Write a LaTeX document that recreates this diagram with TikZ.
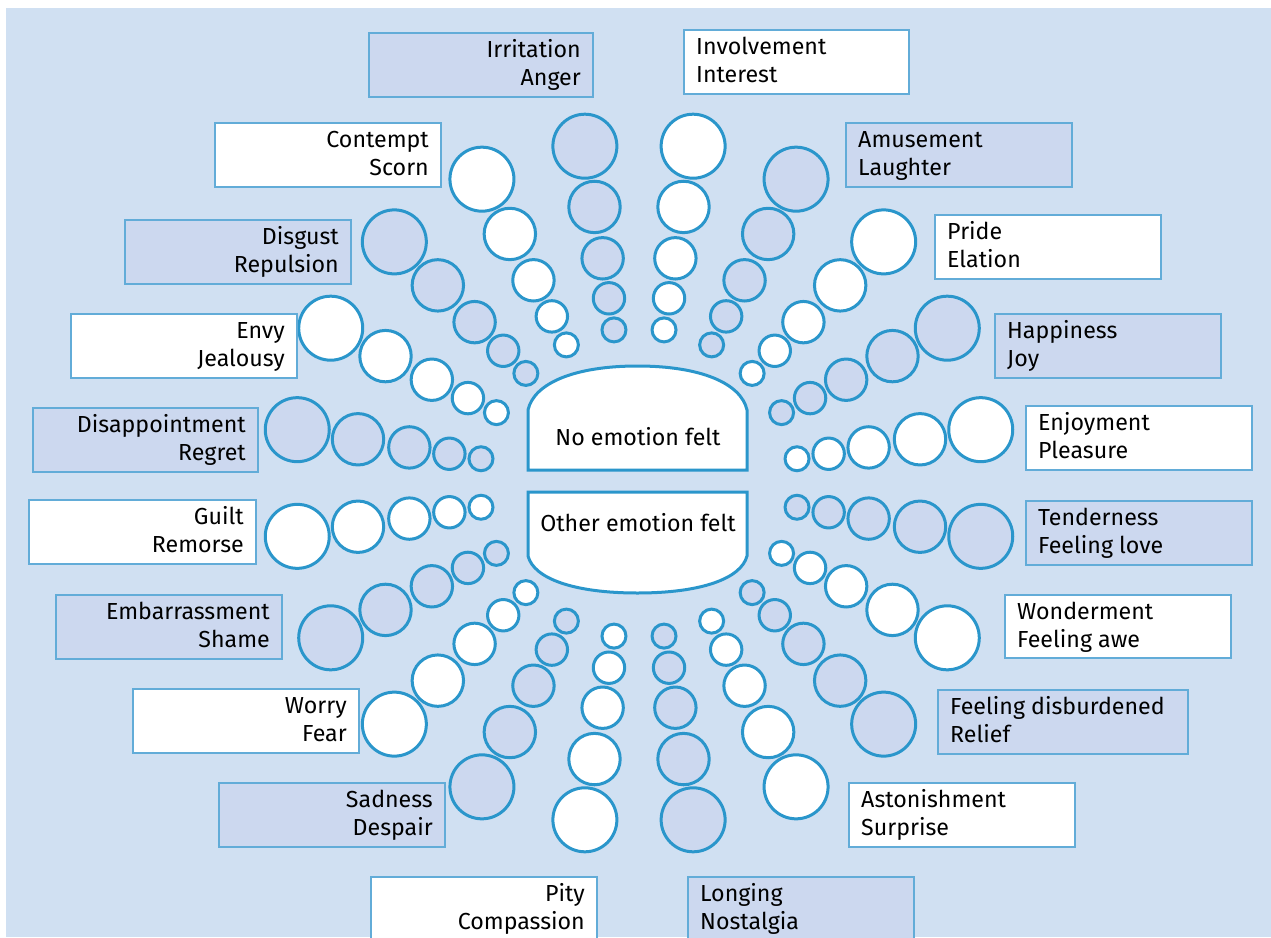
\documentclass[tikz,border=0pt]{standalone}
\usepackage{fontspec}
\setmainfont{Fira Sans}
\usetikzlibrary{calc}
\definecolor{bgc}{HTML}{D0E0F2}
\definecolor{cblue}{HTML}{CCD8EF}
\definecolor{cline}{HTML}{2A96CB}
\definecolor{bline}{HTML}{62ACD8}
\tikzset{
 circ/.style={draw=cline,line width=3pt},
 ebox/.style={draw=bline,line width=2pt,rectangle,inner sep=0pt,anchor=north west},
 lbl/.style={inner sep=0pt,font=\fontsize{23.2}{28}\selectfont,text=black},
 cshape/.style={draw=cline,line width=3pt,fill=white},
}
\newcommand\emobox[9]{%
 \node[ebox,fill=#6,minimum width={(#4-#2)*1pt},minimum height={(#5-#3)*1pt}] (#1) at (#2,#3) {};
 \ifx r#7
  \node[lbl,anchor=base east] (#1-a) at ([xshift=-13pt,yshift=-25pt]#1.north east) {#8};
  \node[lbl,anchor=base east] (#1-b) at ([xshift=-13pt,yshift=-53pt]#1.north east) {#9};
 \else
  \node[lbl,anchor=base west] (#1-a) at ([xshift=13pt,yshift=-25pt]#1.north west) {#8};
  \node[lbl,anchor=base west] (#1-b) at ([xshift=13pt,yshift=-53pt]#1.north west) {#9};
 \fi}
\begin{document}
\begin{tikzpicture}[x=1pt,y=-1pt]
\useasboundingbox (0,0) rectangle (1271,937);
\clip (0,0) rectangle (1271,937);
\fill[white] (0,0) rectangle (1271,937);
\fill[bgc] (6,8) rectangle (1271,937);
% spokes of circles
\foreach \k in {0,...,19}{
  \pgfmathsetmacro\ang{9+18*\k}
  \pgfmathtruncatemacro\pty{mod(\k,2)}
  \ifnum\pty=0 \def\cf{white}\else\def\cf{cblue}\fi
  \foreach \d/\r in {157.5/12,189.5/15.7,230/20.7,282/25.7,343.5/32}{
    \draw[circ,fill=\cf] ({639+(\d+2.5)*cos(\ang)},{483-(\d-2.5)*sin(\ang)}) circle (\r pt);
  }
}
% centre shapes
\draw[cshape] (747,410) -- (747,470) -- (528,470) -- (528,410)
   .. controls (534,383) and (575,366) .. (637.5,366)
   .. controls (700,366) and (741,383) .. (747,410) -- cycle;
\draw[cshape] (528,556) -- (528,492) -- (747,492) -- (747,556)
   .. controls (741,579) and (700,593) .. (637.5,593)
   .. controls (575,593) and (534,579) .. (528,556) -- cycle;
\node[lbl] (none) at (638,437) {No emotion felt};
\node[lbl] (other) at (638,523) {Other emotion felt};
% label boxes
\emobox{irr}{368}{32}{592}{96}{cblue}{r}{Irritation}{Anger}
\emobox{inv}{683}{29}{908}{93}{white}{l}{Involvement}{Interest}
\emobox{amu}{845}{122}{1071}{186}{cblue}{l}{Amusement}{Laughter}
\emobox{pri}{934}{214}{1160}{278}{white}{l}{Pride}{Elation}
\emobox{hap}{994}{313}{1220}{377}{cblue}{l}{Happiness}{Joy}
\emobox{enj}{1025}{405}{1251}{469}{white}{l}{Enjoyment}{Pleasure}
\emobox{ten}{1025}{500}{1251}{564}{cblue}{l}{Tenderness}{Feeling love}
\emobox{won}{1004}{594}{1230}{657}{white}{l}{Wonderment}{Feeling awe}
\emobox{rel}{937}{689}{1187}{753}{cblue}{l}{Feeling disburdened}{Relief}
\emobox{ast}{848}{782}{1074}{846}{white}{l}{Astonishment}{Surprise}
\emobox{lon}{687}{876}{913}{940}{cblue}{l}{Longing}{Nostalgia}
\emobox{pit}{370}{876}{596}{940}{white}{r}{Pity}{Compassion}
\emobox{sad}{218}{782}{444}{846}{cblue}{r}{Sadness}{Despair}
\emobox{wor}{132}{688}{358}{752}{white}{r}{Worry}{Fear}
\emobox{emb}{55}{594}{281}{658}{cblue}{r}{Embarrassment}{Shame}
\emobox{gui}{28}{499}{255}{563}{white}{r}{Guilt}{Remorse}
\emobox{dis}{32}{407}{257}{471}{cblue}{r}{Disappointment}{Regret}
\emobox{env}{70}{313}{296}{377}{white}{r}{Envy}{Jealousy}
\emobox{dsg}{124}{219}{350}{283}{cblue}{r}{Disgust}{Repulsion}
\emobox{con}{214}{122}{440}{186}{white}{r}{Contempt}{Scorn}
\end{tikzpicture}
\end{document}
